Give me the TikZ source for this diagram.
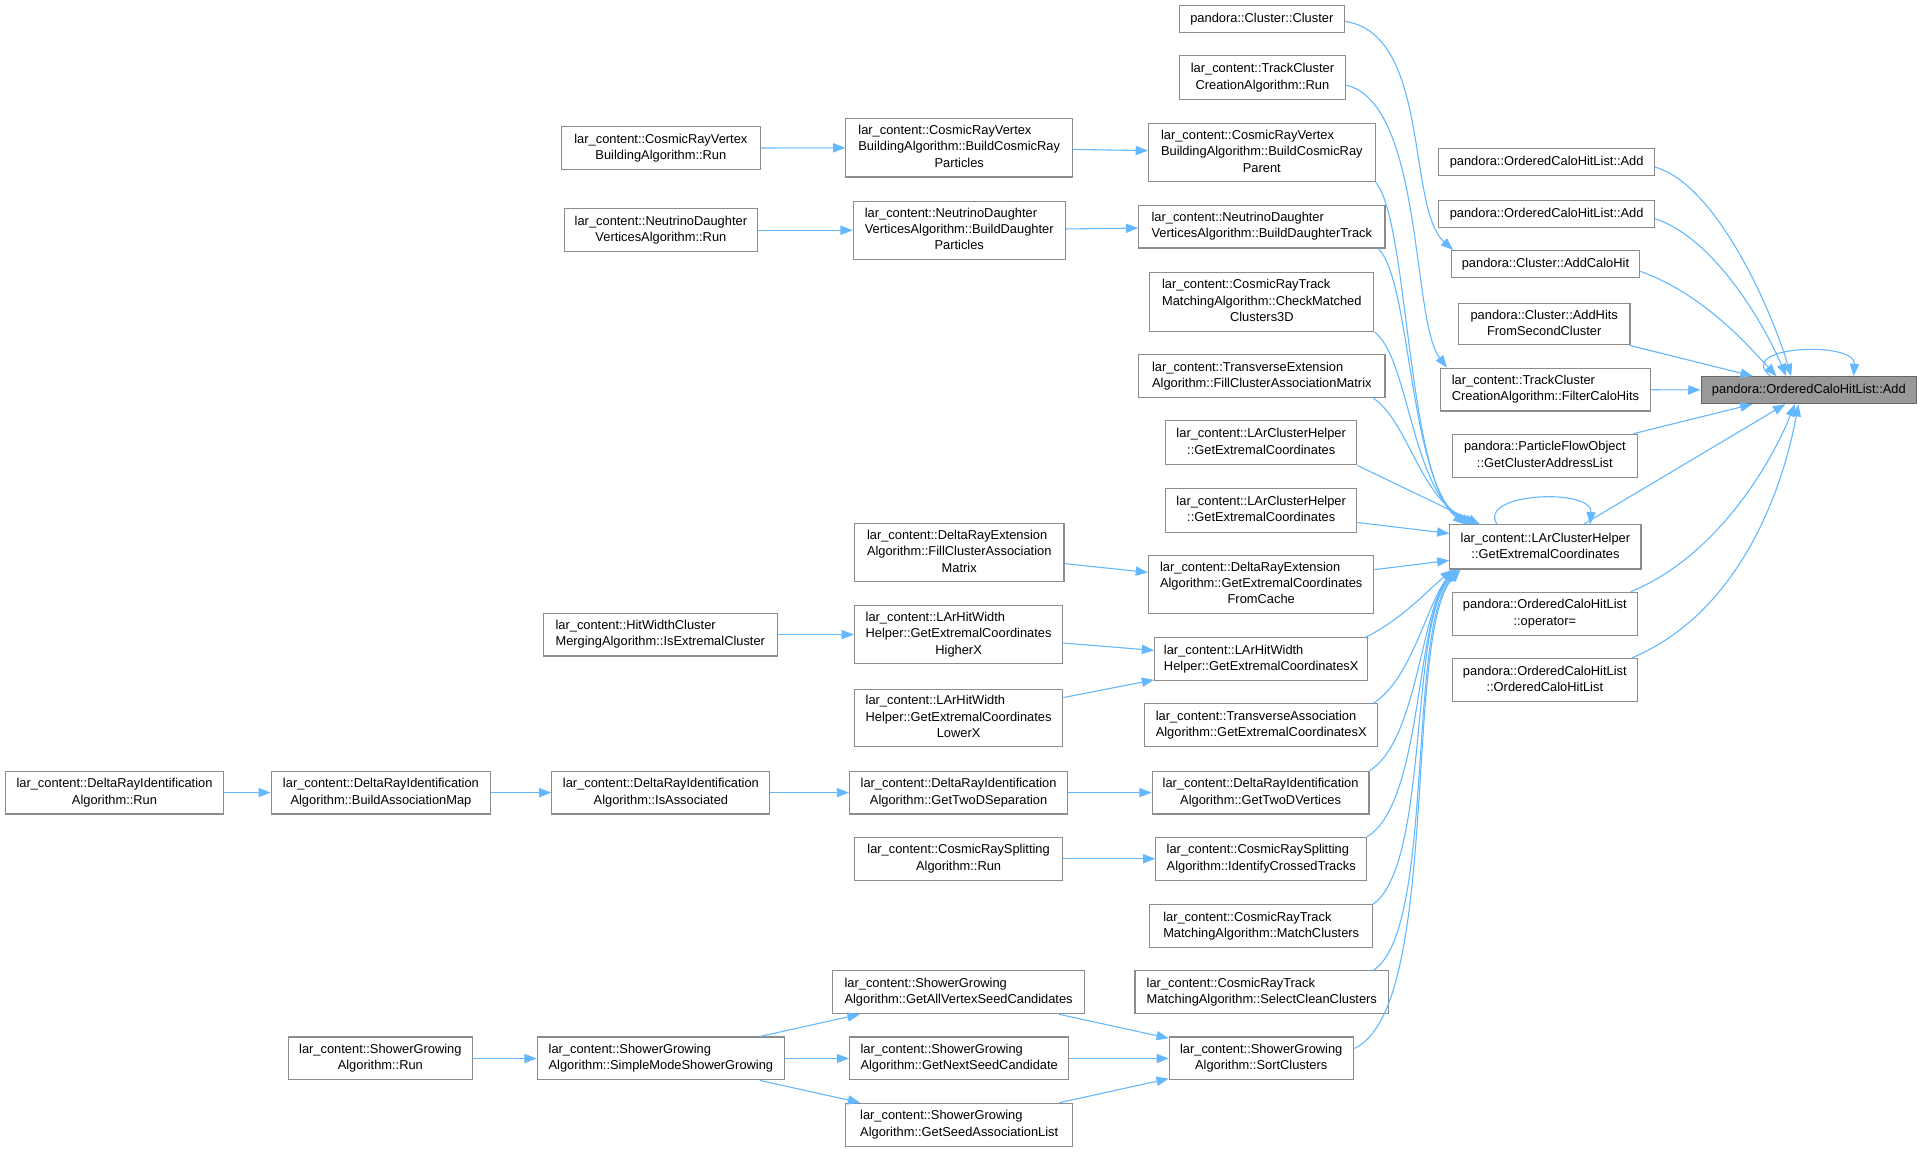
\documentclass[tikz,border=0pt]{standalone}
\usepackage{fontspec}
\setmainfont{Liberation Sans}
\usetikzlibrary{arrows.meta,calc}
\definecolor{edgeblue}{HTML}{63B8FF}
\definecolor{boxgray}{HTML}{8C8C8C}
\definecolor{targetfill}{HTML}{999999}
\definecolor{targetdraw}{HTML}{666666}
\newcommand\nodefont{\fontsize{10.5}{13.3}\selectfont}
\newcommand\larc{lar\_content::}
\newcommand\twoL[2]{\begin{tabular}{@{}l@{}}#1\\\multicolumn{1}{@{}c@{}}{#2}\end{tabular}}
\newcommand\threeL[3]{\begin{tabular}{@{}l@{}}#1\\#2\\\multicolumn{1}{@{}c@{}}{#3}\end{tabular}}
\tikzset{
  fn/.style={draw=boxgray, fill=white, line width=0.9pt, inner sep=0pt, anchor=north west, font=\nodefont},
  tgt/.style={fn, draw=targetdraw, fill=targetfill},
  call/.style={draw=edgeblue, line width=0.9pt, -{Triangle[length=10pt,width=7.5pt]}},
}
\begin{document}
\begin{tikzpicture}[x=1pt,y=-1pt]
\useasboundingbox (0,0) rectangle (1568,940);
% right column
\node[tgt, minimum width=176, minimum height=22] (target) at (1388,307) {pandora::OrderedCaloHitList::Add};
\node[fn, minimum width=176, minimum height=22] (addA) at (1174,121) {pandora::OrderedCaloHitList::Add};
\node[fn, minimum width=176, minimum height=22] (addB) at (1174,163) {pandora::OrderedCaloHitList::Add};
\node[fn, minimum width=154, minimum height=22] (addcalo) at (1184,204) {pandora::Cluster::AddCaloHit};
\node[fn, minimum width=140, minimum height=34] (addhits) at (1190,247) {\twoL{pandora::Cluster::AddHits}{FromSecondCluster}};
\node[fn, minimum width=172, minimum height=35] (filter) at (1175,300) {\twoL{\larc TrackCluster}{CreationAlgorithm::FilterCaloHits}};
\node[fn, minimum width=151, minimum height=35] (pfo) at (1185,354) {\twoL{pandora::ParticleFlowObject}{::GetClusterAddressList}};
\node[fn, minimum width=156, minimum height=36] (main) at (1183,428) {\twoL{\larc LArClusterHelper}{::GetExtremalCoordinates}};
\node[fn, minimum width=151, minimum height=35] (opeq) at (1185,483) {\twoL{pandora::OrderedCaloHitList}{::operator=}};
\node[fn, minimum width=151, minimum height=35] (ochl) at (1185,537) {\twoL{pandora::OrderedCaloHitList}{::OrderedCaloHitList}};
% column 2
\node[fn, minimum width=135, minimum height=22] (clcl) at (962,4) {pandora::Cluster::Cluster};
\node[fn, minimum width=136, minimum height=36] (tcrun) at (962,45) {\twoL{\larc TrackCluster}{CreationAlgorithm::Run}};
\node[fn, minimum width=185, minimum height=48] (bcrparent) at (937,100) {\threeL{\larc CosmicRayVertex}{BuildingAlgorithm::BuildCosmicRay}{Parent}};
\node[fn, minimum width=201, minimum height=35] (bdtrack) at (929,167) {\twoL{\larc NeutrinoDaughter}{VerticesAlgorithm::BuildDaughterTrack}};
\node[fn, minimum width=183, minimum height=48] (cm3d) at (938,222) {\threeL{\larc CosmicRayTrack}{MatchingAlgorithm::CheckMatched}{Clusters3D}};
\node[fn, minimum width=201, minimum height=35] (tefill) at (929,289) {\twoL{\larc TransverseExtension}{Algorithm::FillClusterAssociationMatrix}};
\node[fn, minimum width=156, minimum height=36] (gecA) at (951,343) {\twoL{\larc LArClusterHelper}{::GetExtremalCoordinates}};
\node[fn, minimum width=156, minimum height=36] (gecB) at (951,398) {\twoL{\larc LArClusterHelper}{::GetExtremalCoordinates}};
\node[fn, minimum width=184, minimum height=47] (drefc) at (937,453) {\threeL{\larc DeltaRayExtension}{Algorithm::GetExtremalCoordinates}{FromCache}};
\node[fn, minimum width=174, minimum height=35] (hwx) at (942,520) {\twoL{\larc LArHitWidth}{Helper::GetExtremalCoordinatesX}};
\node[fn, minimum width=190, minimum height=35] (taX) at (934,574) {\twoL{\larc TransverseAssociation}{Algorithm::GetExtremalCoordinatesX}};
\node[fn, minimum width=177, minimum height=35] (gtdv) at (940,629) {\twoL{\larc DeltaRayIdentification}{Algorithm::GetTwoDVertices}};
\node[fn, minimum width=172, minimum height=35] (ict) at (943,683) {\twoL{\larc CosmicRaySplitting}{Algorithm::IdentifyCrossedTracks}};
\node[fn, minimum width=182, minimum height=35] (mcl) at (938,738) {\twoL{\larc CosmicRayTrack}{MatchingAlgorithm::MatchClusters}};
\node[fn, minimum width=207, minimum height=35] (scc) at (926,792) {\twoL{\larc CosmicRayTrack}{MatchingAlgorithm::SelectCleanClusters}};
\node[fn, minimum width=150, minimum height=35] (sortc) at (954,846) {\twoL{\larc ShowerGrowing}{Algorithm::SortClusters}};
% column 3
\node[fn, minimum width=185, minimum height=48] (bcrparticles) at (690,96) {\threeL{\larc CosmicRayVertex}{BuildingAlgorithm::BuildCosmicRay}{Particles}};
\node[fn, minimum width=173, minimum height=47] (bdparticles) at (696,164) {\threeL{\larc NeutrinoDaughter}{VerticesAlgorithm::BuildDaughter}{Particles}};
\node[fn, minimum width=171, minimum height=47] (drefill) at (697,427) {\threeL{\larc DeltaRayExtension}{Algorithm::FillClusterAssociation}{Matrix}};
\node[fn, minimum width=170, minimum height=47] (higherx) at (697,494) {\threeL{\larc LArHitWidth}{Helper::GetExtremalCoordinates}{HigherX}};
\node[fn, minimum width=170, minimum height=47] (lowerx) at (697,562) {\threeL{\larc LArHitWidth}{Helper::GetExtremalCoordinates}{LowerX}};
\node[fn, minimum width=178, minimum height=35] (gtds) at (693,629) {\twoL{\larc DeltaRayIdentification}{Algorithm::GetTwoDSeparation}};
\node[fn, minimum width=170, minimum height=35] (crsrun) at (697,683) {\twoL{\larc CosmicRaySplitting}{Algorithm::Run}};
\node[fn, minimum width=206, minimum height=35] (gavsc) at (679,792) {\twoL{\larc ShowerGrowing}{Algorithm::GetAllVertexSeedCandidates}};
\node[fn, minimum width=179, minimum height=35] (gnsc) at (693,846) {\twoL{\larc ShowerGrowing}{Algorithm::GetNextSeedCandidate}};
\node[fn, minimum width=185, minimum height=35] (gsal) at (690,900) {\twoL{\larc ShowerGrowing}{Algorithm::GetSeedAssociationList}};
% column 4
\node[fn, minimum width=162, minimum height=35] (crvrun) at (458,103) {\twoL{\larc CosmicRayVertex}{BuildingAlgorithm::Run}};
\node[fn, minimum width=158, minimum height=35] (ndrun) at (460,170) {\twoL{\larc NeutrinoDaughter}{VerticesAlgorithm::Run}};
\node[fn, minimum width=191, minimum height=35] (hwiec) at (443,500) {\twoL{\larc HitWidthCluster}{MergingAlgorithm::IsExtremalCluster}};
\node[fn, minimum width=178, minimum height=35] (isassoc) at (450,629) {\twoL{\larc DeltaRayIdentification}{Algorithm::IsAssociated}};
\node[fn, minimum width=202, minimum height=35] (smsg) at (438,846) {\twoL{\larc ShowerGrowing}{Algorithm::SimpleModeShowerGrowing}};
% column 5
\node[fn, minimum width=179, minimum height=35] (bam) at (221,629) {\twoL{\larc DeltaRayIdentification}{Algorithm::BuildAssociationMap}};
\node[fn, minimum width=150, minimum height=35] (sgrun) at (235,846) {\twoL{\larc ShowerGrowing}{Algorithm::Run}};
% column 6
\node[fn, minimum width=178, minimum height=35] (drirun) at (4,629) {\twoL{\larc DeltaRayIdentification}{Algorithm::Run}};

% straight chains
\draw[call] (crvrun) -- (bcrparticles);
\draw[call] (bcrparticles) -- (bcrparent);
\draw[call] (ndrun) -- (bdparticles);
\draw[call] (bdparticles) -- (bdtrack);
\draw[call] (drefill) -- (drefc);
\draw[call] (hwiec) -- (higherx);
\draw[call] (higherx) -- (hwx);
\draw[call] (lowerx) -- (hwx);
\draw[call] (drirun) -- (bam);
\draw[call] (bam) -- (isassoc);
\draw[call] (isassoc) -- (gtds);
\draw[call] (gtds) -- (gtdv);
\draw[call] (crsrun) -- (ict);
\draw[call] (sgrun) -- (smsg);
\draw[call] (smsg) -- (gavsc);
\draw[call] (smsg) -- (gnsc);
\draw[call] (smsg) -- (gsal);
\draw[call] (gavsc) -- (sortc);
\draw[call] (gnsc) -- (sortc);
\draw[call] (gsal) -- (sortc);

% into the right column
\draw[call] ($(clcl.east)+(0,2)$) .. controls (1168,28) and (1148,170) .. ($(addcalo.north west)+(2,0)$);
\draw[call] ($(tcrun.east)+(0,6)$) .. controls (1162,85) and (1152,262) .. ($(filter.north west)+(6,0)$);

% top bundle into main
\draw[call] (bcrparent.south east) .. controls (1150,180) and (1148,390) .. ($(main.north west)+(13,0)$);
\draw[call] ($(bdtrack.south east)+(-6,0)$) .. controls (1152,228) and (1150,395) .. ($(main.north west)+(16,0)$);
\draw[call] (cm3d.south east) .. controls (1150,292) and (1152,400) .. ($(main.north west)+(19,0)$);
\draw[call] ($(tefill.south east)+(-10,0)$) .. controls (1150,345) and (1158,405) .. ($(main.north west)+(22,0)$);
\draw[call] (gecA.south east) -- ($(main.north west)+(25,0)$);
\draw[call] ($(gecB.east)+(0,10)$) -- ($(main.west)+(0,-11)$);
\draw[call] ($(drefc.east)+(0,-12)$) -- ($(main.west)+(0,11)$);

% bottom bundle into main
\draw[call] ($(hwx.north east)+(-2,0)$) .. controls (1145,505) and (1165,482) .. ($(main.south west)+(3,0)$);
\draw[call] ($(taX.north east)+(-4,0)$) .. controls (1152,555) and (1165,492) .. ($(main.south west)+(4,0)$);
\draw[call] (gtdv.north east) .. controls (1157,605) and (1160,497) .. ($(main.south west)+(5,0)$);
\draw[call] (ict.north east) .. controls (1162,655) and (1155,502) .. ($(main.south west)+(6,0)$);
\draw[call] (mcl.north east) .. controls (1167,705) and (1150,507) .. ($(main.south west)+(7,0)$);
\draw[call] ($(scc.north east)+(-13,0)$) .. controls (1172,760) and (1148,512) .. ($(main.south west)+(8,0)$);
\draw[call] ($(sortc.east)+(0,-8)$) .. controls (1177,825) and (1145,517) .. ($(main.south west)+(9,0)$);

% main self loop and main to target
\draw[call] ($(main.north west)+(39,0)$) .. controls (1205,402) and (1300,398) .. ($(main.north west)+(115,0)$);
\draw[call] (main) -- (target);

% into target
\draw[call] ($(addA.east)+(0,4)$) .. controls (1400,150) and (1445,250) .. ($(target.north west)+(74,0)$);
\draw[call] ($(addB.east)+(0,4)$) .. controls (1400,195) and (1440,265) .. ($(target.north west)+(70,0)$);
\draw[call] ($(addcalo.east)+(0,6)$) .. controls (1390,240) and (1425,280) .. ($(target.north west)+(62,0)$);
\draw[call] (addhits) -- (target);
\draw[call] (filter) -- (target);
\draw[call] (pfo) -- (target);
\draw[call] ($(opeq.north east)+(-6,0)$) .. controls (1400,455) and (1445,380) .. ($(target.south west)+(77,0)$);
\draw[call] ($(ochl.north east)+(-5,0)$) .. controls (1420,500) and (1455,400) .. ($(target.south west)+(80,0)$);
\draw[call] ($(target.north west)+(57,0)$) .. controls (1415,282) and (1515,278) .. ($(target.north west)+(125,0)$);
\end{tikzpicture}
\end{document}
